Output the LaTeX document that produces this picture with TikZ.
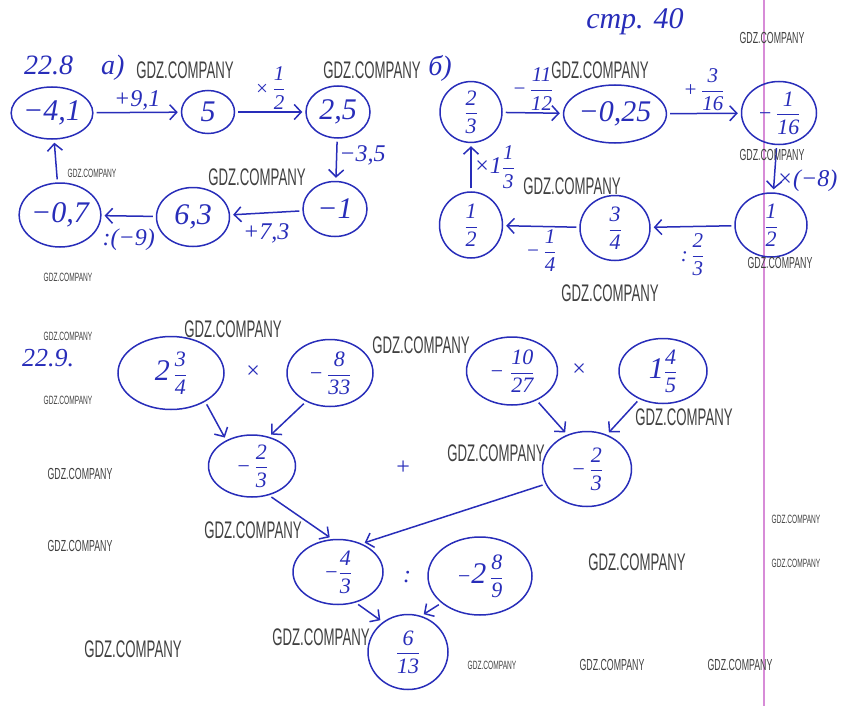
\documentclass[tikz,border=0pt]{standalone}
\usepackage{amsmath}
\usepackage{fontspec}
\setmainfont{Liberation Serif}
\newfontfamily\wmfont[FakeStretch=0.55]{Liberation Sans}
\usetikzlibrary{shapes.geometric, arrows.meta}
\definecolor{ink}{RGB}{40,45,185}
\definecolor{margin}{RGB}{215,140,215}
\newcommand\fr[2]{\ensuremath{\dfrac{\mbox{#1}}{\mbox{#2}}}}
\newcommand\hwbig{\fontsize{30}{32}\selectfont\itshape}
\newcommand\hwfrac{\fontsize{22}{24}\selectfont\itshape}
\newcommand\hwlab{\fontsize{24}{26}\selectfont\itshape}
\newcommand\hwsmall{\fontsize{21}{22}\selectfont\itshape}

\begin{document}
\begin{tikzpicture}[x=1pt, y=-1pt,
    num/.style={draw=ink, line width=1.5pt, ellipse, inner sep=0pt, text=ink, font=\hwbig},
    lab/.style={text=ink, font=\hwlab, inner sep=2pt},
    link/.style={draw=ink, line width=1.5pt, -{Straight Barb[length=7pt,width=15pt]}, shorten >=3pt, shorten <=3pt},
    wm/.style={text=black!75, inner sep=0pt}]
        \useasboundingbox (0,0) rectangle (856,706);

        % Linie de margine
        \draw[margin, line width=1.2pt] (764,0) -- (764,706);

        % Titluri
        \node[lab, font=\fontsize{28}{30}\selectfont\itshape, anchor=west] (h1) at (22,68) {22.8\quad a)};
        \node[lab, font=\fontsize{28}{30}\selectfont\itshape] (h2) at (440,68) {б)};
        \node[lab, font=\fontsize{30}{32}\selectfont\itshape] (h3) at (635,22) {стр. 40};
        \node[lab, font=\fontsize{26}{28}\selectfont\itshape, anchor=west] (h4) at (20,358) {22.9.};

        % 22.8 a) -- lantul de numere
        \node[num, minimum width=65, minimum height=52] (a1) at (52,113) {−4,1};
        \node[num, minimum width=53, minimum height=43] (a2) at (208,112) {5};
        \node[num, minimum width=64, minimum height=52] (a3) at (338,112) {2,5};
        \node[num, minimum width=64, minimum height=55] (a4) at (335,209) {−1};
        \node[num, minimum width=73, minimum height=59] (a5) at (193,217) {6,3};
        \node[num, minimum width=73, minimum height=64] (a6) at (60,215) {−0,7};

        \draw[link] (a1) -- (a2) node[lab, pos=0.5, above] {+9,1};
        \draw[link] (a2) -- (a3) node[lab, font=\hwsmall, pos=0.5, above] {×\,\fr{1}{2}};
        \draw[link] (a3) -- (a4) node[lab, pos=0.4, right] {−3,5};
        \draw[link] (a4) -- (a5) node[lab, pos=0.5, below=8pt] {+7,3};
        \draw[link] (a5) -- (a6) node[lab, pos=0.5, below=10pt] {:(−9)};
        \draw[link] (a6) -- (a1);

        % 22.8 б) -- lantul cu fractii
        \node[num, font=\hwfrac, minimum width=62, minimum height=55] (b1) at (471,112) {\fr{2}{3}};
        \node[num, minimum width=90, minimum height=58] (b2) at (615,114) {−0,25};
        \node[num, font=\hwfrac, minimum width=75, minimum height=63] (b3) at (779,113) {−\,\fr{1}{16}};
        \node[num, font=\hwfrac, minimum width=72, minimum height=64] (b4) at (771,225) {\fr{1}{2}};
        \node[num, font=\hwfrac, minimum width=70, minimum height=65] (b5) at (615,228) {\fr{3}{4}};
        \node[num, font=\hwfrac, minimum width=63, minimum height=66] (b6) at (471,225) {\fr{1}{2}};

        \draw[link] (b1) -- (b2) node[lab, font=\hwsmall, pos=0.5, above] {−\,\fr{11}{12}};
        \draw[link] (b2) -- (b3) node[lab, font=\hwsmall, pos=0.5, above] {+\,\fr{3}{16}};
        \draw[link] (b3) -- (b4) node[lab, pos=0.75, right] {×(−8)};
        \draw[link] (b4) -- (b5) node[lab, font=\hwsmall, pos=0.5, below=4pt] {:\,\fr{2}{3}};
        \draw[link] (b5) -- (b6) node[lab, font=\hwsmall, pos=0.5, below] {−\,\fr{1}{4}};
        \draw[link] (b6) -- (b1) node[lab, pos=0.5, right] {×1{\hwsmall\fr{1}{3}}};

        % 22.9 -- arborele de calcul
        \node[num, font=\hwfrac, minimum width=106, minimum height=73] (m1) at (171,373) {{\hwbig 2}\,\fr{3}{4}};
        \node[num, font=\hwfrac, minimum width=86, minimum height=67] (m2) at (330,373) {−\,\fr{8}{33}};
        \node[num, font=\hwfrac, minimum width=87, minimum height=62] (m3) at (252,466) {−\,\fr{2}{3}};
        \node[num, font=\hwfrac, minimum width=91, minimum height=68] (r1) at (512,371) {−\;\fr{10}{27}};
        \node[num, font=\hwfrac, minimum width=88, minimum height=65] (r2) at (663,371) {{\hwbig 1}\fr{4}{5}};
        \node[num, font=\hwfrac, minimum width=89, minimum height=75] (r3) at (587,469) {−\,\fr{2}{3}};
        \node[num, font=\hwfrac, minimum width=90, minimum height=65] (c1) at (338,572) {−\fr{4}{3}};
        \node[num, font=\hwfrac, minimum width=104, minimum height=78] (d1) at (480,576) {−{\hwbig 2}\,\fr{8}{9}};
        \node[num, font=\hwfrac, minimum width=80, minimum height=75] (m6) at (408,652) {\fr{6}{13}};

        \node[lab] (t1) at (253,372) {×};
        \node[lab] (t2) at (579,370) {×};
        \node[lab] (pl) at (403,468) {+};
        \node[lab] (co) at (407,577) {:};

        \draw[link] (m1.-40) -- (m3.135);
        \draw[link] (m2.-130) -- (m3.60);
        \draw[link] (m3.-60) -- (c1.100);
        \draw[link] (r1.-50) -- (r3.120);
        \draw[link] (r2.-130) -- (r3.60);
        \draw[link] (r3.200) -- (c1.50);
        \draw[link] (c1.-60) -- (m6.130);
        \draw[link] (d1.-145) -- (m6.70);

        % Watermark-uri
        \foreach \x/\y [count=\i] in {185/70, 372/70, 257/177, 600/70, 572/186, 610/293, 233/329, 421/345,
            496/453, 684/417, 253/530, 321/637, 133/649, 637/562}
            \node[wm, font=\wmfont\fontsize{24}{24}\selectfont] (wl\i) at (\x,\y) {GDZ.COMPANY};
        \foreach \x/\y [count=\i] in {80/474, 80/546, 612/665, 740/665, 772/38, 772/155, 780/263}
            \node[wm, font=\wmfont\fontsize{16}{16}\selectfont] (wm\i) at (\x,\y) {GDZ.COMPANY};
        \foreach \x/\y [count=\i] in {92/173, 68/277, 68/336, 68/400, 492/665, 796/519, 796/563}
            \node[wm, font=\wmfont\fontsize{12}{12}\selectfont] (ws\i) at (\x,\y) {GDZ.COMPANY};

    \end{tikzpicture}
\end{document}
